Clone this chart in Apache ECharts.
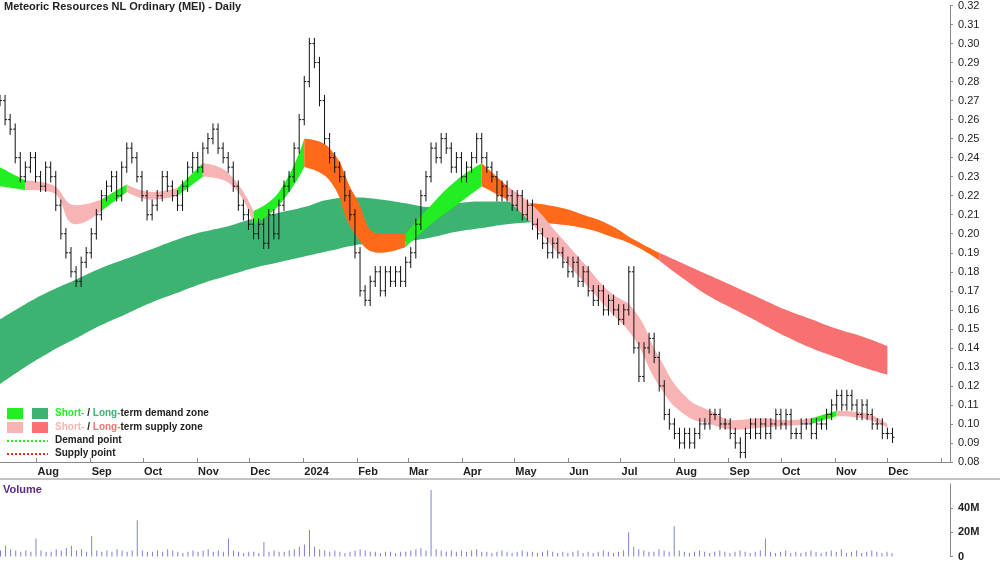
<!DOCTYPE html>
<html>
<head>
<meta charset="utf-8">
<script src="https://cdn.jsdelivr.net/npm/echarts@6/dist/echarts.min.js"></script>
<style>
html, body { margin: 0; padding: 0; background: #fff; }
#chart { width: 1000px; height: 562px; }
</style>
</head>
<body>
<div id="chart"></div>
<script>
// closes, bars spread evenly from 2023-07-11 to 2024-12-04
let closes = [
	0.27,0.26,0.255,0.24,0.23,0.235,0.24,0.23,0.225,0.235,
	0.23,0.215,0.20,0.19,0.18,0.175,0.185,0.19,0.20,0.21,
	0.22,0.225,0.23,0.22,0.235,0.245,0.24,0.23,0.22,0.21,
	0.215,0.22,0.23,0.225,0.22,0.215,0.225,0.235,0.24,0.235,
	0.245,0.25,0.255,0.245,0.24,0.235,0.225,0.215,0.21,0.205,
	0.20,0.205,0.195,0.21,0.20,0.215,0.225,0.23,0.245,0.26,
	0.28,0.30,0.29,0.27,0.25,0.24,0.235,0.23,0.22,0.21,
	0.19,0.17,0.165,0.175,0.18,0.17,0.18,0.175,0.18,0.175,
	0.185,0.19,0.205,0.22,0.23,0.245,0.24,0.25,0.245,0.235,
	0.24,0.23,0.235,0.24,0.25,0.24,0.235,0.23,0.22,0.225,
	0.22,0.215,0.22,0.21,0.215,0.205,0.20,0.195,0.19,0.195,
	0.19,0.185,0.18,0.185,0.175,0.18,0.17,0.165,0.17,0.16,
	0.165,0.16,0.155,0.16,0.18,0.14,0.125,0.14,0.145,0.135,
	0.12,0.105,0.10,0.095,0.09,0.095,0.09,0.095,0.10,0.10,
	0.105,0.105,0.10,0.10,0.095,0.09,0.085,0.095,0.10,0.095,
	0.10,0.095,0.10,0.105,0.10,0.105,0.095,0.095,0.10,0.10,
	0.095,0.10,0.10,0.105,0.11,0.115,0.11,0.115,0.11,0.105,
	0.11,0.105,0.10,0.10,0.095,0.095,0.093
];
// volume in millions, same bars
let volumes = [
	5,9,6,5,4,5,4,15,5,4,
	4,6,5,7,9,5,6,4,17,5,
	4,5,4,6,5,4,5,30,5,4,
	4,5,4,6,5,4,3,4,5,4,
	5,6,4,5,4,15,5,4,3,4,
	4,3,12,4,5,4,4,5,6,8,
	10,22,8,6,5,4,5,4,3,4,
	5,6,5,4,4,3,4,4,3,4,
	4,5,6,7,5,55,6,5,4,5,
	4,5,4,5,6,4,4,3,4,5,
	4,3,4,5,4,4,3,4,5,4,
	3,4,3,4,5,3,4,3,4,5,
	4,3,4,5,20,8,6,5,4,4,
	6,5,4,25,5,4,3,4,5,4,
	3,4,5,4,3,4,5,4,3,4,
	5,15,4,3,4,5,3,4,3,4,
	5,4,3,4,5,4,6,3,4,5,
	3,4,5,4,3,4,3
];
// bands sampled every 5 bars
let longLow = [0.121,0.130,0.138,0.145,0.152,0.158,0.164,0.169,0.174,0.178,0.182,0.185,0.188,0.191,0.194,0.195,0.196,0.198,0.201,0.203,0.205,0.206,0.205,0.203,0.199,0.194,0.186,0.176,0.167,0.160,0.153,0.146,0.140,0.135,0.130,0.126];
let longHigh = [0.155,0.163,0.170,0.176,0.182,0.187,0.192,0.197,0.201,0.204,0.208,0.211,0.214,0.218,0.219,0.218,0.216,0.214,0.216,0.217,0.217,0.216,0.214,0.210,0.205,0.197,0.190,0.184,0.178,0.172,0.166,0.160,0.155,0.150,0.146,0.141];
let longZone = ['d','d','d','d','d','d','d','d','d','d','d','d','d','d','d','d','d','d','d','d','d','o','o','o','o','o','s','s','s','s','s','s','s','s','s'];
let shortLow = [0.225,0.223,0.222,0.205,0.212,0.222,0.218,0.220,0.230,0.227,0.205,0.215,0.235,0.228,0.200,0.190,0.193,0.205,0.215,0.225,0.218,0.205,0.190,0.175,0.160,0.145,0.120,0.105,0.100,0.097,0.098,0.099,0.100,0.104,0.103,0.098];
let shortHigh = [0.235,0.228,0.226,0.215,0.218,0.226,0.222,0.224,0.237,0.232,0.212,0.222,0.250,0.245,0.220,0.200,0.200,0.215,0.228,0.237,0.225,0.215,0.200,0.185,0.170,0.160,0.135,0.115,0.107,0.102,0.103,0.102,0.103,0.107,0.106,0.100];
let shortZone = ['d','s','s','s','d','s','s','d','s','s','d','d','o','o','o','o','d','d','d','o','s','s','s','s','s','s','s','s','s','s','s','s','d','s','s'];
let monthNames = ['2024','Feb','Mar','Apr','May','Jun','Jul','Aug','Sep','Oct','Nov','Dec'];

let shortColors = { d: '#22ee22', s: '#f8b4b4', o: '#ff6a1a' };
let longColors = { d: '#3cb371', s: '#f87171', o: '#ff6a1a' };

let startT = Date.UTC(2023, 6, 11);
let endT = Date.UTC(2024, 11, 4);
let axisMax = Date.UTC(2025, 0, 6);
let dates = closes.map((c, i) => startT + i * (endT - startT) / (closes.length - 1));

let ohlc = closes.map((c, i) => {
	let o = i === 0 ? c : closes[i - 1];
	return [dates[i], o, c, Math.min(o, c) - 0.003, Math.max(o, c) + 0.003];
});

function bandSeries(low, high, zones, colors, prefix) {
	let out = [];
	let runs = [];
	zones.forEach((z, i) => {
		if (runs.length && runs[runs.length - 1].z === z) runs[runs.length - 1].end = i + 1;
		else runs.push({ z: z, start: i, end: i + 1 });
	});
	runs.forEach((r, k) => {
		let base = [], diff = [];
		for (let i = r.start; i <= r.end; i++) {
			let t = dates[Math.min(i * 5, dates.length - 1)];
			base.push([t, low[i]]);
			diff.push([t, +(high[i] - low[i]).toFixed(4)]);
		}
		let st = prefix + k;
		out.push({ type: 'line', stack: st, data: base, symbol: 'none', smooth: true, lineStyle: { opacity: 0 }, silent: true });
		out.push({ type: 'line', stack: st, data: diff, symbol: 'none', smooth: true, lineStyle: { opacity: 0 }, areaStyle: { color: colors[r.z], opacity: 1 }, silent: true });
	});
	return out;
}

let myChart = echarts.init(document.getElementById('chart'));

let font = 'bold 10px Liberation Sans';
let option = {
	animation: false,
	backgroundColor: '#fff',
	textStyle: { fontFamily: 'Liberation Sans, Arial' },
	grid: [
		{ left: 0, right: 50, top: 5, bottom: 100 },
		{ left: 0, right: 50, top: 484, bottom: 3 }
	],
	xAxis: [
		{
			type: 'time', gridIndex: 0, min: startT, max: axisMax,
			minInterval: 28 * 864e5, maxInterval: 31 * 864e5,
			axisLine: { lineStyle: { color: '#888' } },
			axisTick: { show: true, length: 4, inside: true, lineStyle: { color: '#888' } },
			splitLine: { show: false },
			axisLabel: {
				align: 'left', padding: [0, 0, 0, 1], color: '#222', fontSize: 11, fontWeight: 'bold', margin: 4,
				formatter: v => { let d = new Date(v); return d.getUTCFullYear() === 2023 && d.getUTCMonth() < 7 ? '' : (d.getUTCFullYear() === 2025 ? '' : monthNames[d.getUTCMonth()]); }
			}
		},
		{ type: 'time', gridIndex: 1, min: startT, max: axisMax, show: false }
	],
	yAxis: [
		{
			type: 'value', gridIndex: 0, position: 'right', min: 0.08, max: 0.32, interval: 0.01,
			splitLine: { show: false },
			axisLine: { show: true, lineStyle: { color: '#888' } },
			axisTick: { show: true, length: 3, lineStyle: { color: '#888' } },
			axisLabel: { color: '#222', fontSize: 11, formatter: v => v.toFixed(2) }
		},
		{
			type: 'value', gridIndex: 1, position: 'right', min: 0, max: 60, interval: 20,
			splitLine: { show: false },
			axisLine: { show: true, lineStyle: { color: '#888' } },
			axisTick: { show: true, length: 3 },
			axisLabel: { color: '#222', fontSize: 11, fontWeight: 'bold', showMaxLabel: false, formatter: v => v === 0 ? '0' : v + 'M' }
		}
	],
	graphic: [
		{ type: 'text', left: 4, top: 1, style: { text: 'Meteoric Resources NL Ordinary (MEI) - Daily', font: 'bold 11px Liberation Sans', fill: '#222' } },
		{ type: 'text', left: 3, top: 484, style: { text: 'Volume', font: 'bold 11px Liberation Sans', fill: '#5b2a86' } },
		{ type: 'line', shape: { x1: 0, y1: 479, x2: 1000, y2: 479 }, style: { stroke: '#888' } },
		{ type: 'rect', shape: { x: 7, y: 408, width: 16, height: 11 }, style: { fill: '#22ee22' } },
		{ type: 'rect', shape: { x: 32, y: 408, width: 16, height: 11 }, style: { fill: '#3cb371' } },
		{ type: 'rect', shape: { x: 7, y: 422, width: 16, height: 11 }, style: { fill: '#f8b4b4' } },
		{ type: 'rect', shape: { x: 32, y: 422, width: 16, height: 11 }, style: { fill: '#f87171' } },
		{ type: 'line', shape: { x1: 7, y1: 441, x2: 48, y2: 441 }, style: { stroke: '#22ee22', lineWidth: 2, lineDash: [2, 2] } },
		{ type: 'line', shape: { x1: 7, y1: 454, x2: 48, y2: 454 }, style: { stroke: '#ee2222', lineWidth: 2, lineDash: [2, 2] } },
		{ type: 'text', left: 55, top: 408, style: { rich: { g: { fill: '#22ee22', font: font }, d: { fill: '#3cb371', font: font }, b: { fill: '#222', font: font } }, text: '{g|Short-}{b| / }{d|Long-}{b|term demand zone}' } },
		{ type: 'text', left: 55, top: 422, style: { rich: { g: { fill: '#f8b4b4', font: font }, d: { fill: '#f87171', font: font }, b: { fill: '#222', font: font } }, text: '{g|Short-}{b| / }{d|Long-}{b|term supply zone}' } },
		{ type: 'text', left: 55, top: 435, style: { text: 'Demand point', font: font, fill: '#222' } },
		{ type: 'text', left: 55, top: 448, style: { text: 'Supply point', font: font, fill: '#222' } }
	],
	series: [
		...bandSeries(longLow, longHigh, longZone, longColors, 'L'),
		...bandSeries(shortLow, shortHigh, shortZone, shortColors, 'S'),
		{
			type: 'custom', xAxisIndex: 0, yAxisIndex: 0, data: ohlc, z: 10,
			renderItem: function (params, api) {
				let t = api.value(0);
				let pO = api.coord([t, api.value(1)]);
				let pC = api.coord([t, api.value(2)]);
				let pL = api.coord([t, api.value(3)]);
				let pH = api.coord([t, api.value(4)]);
				let st = { stroke: '#111', lineWidth: 1 };
				return { type: 'group', children: [
					{ type: 'line', shape: { x1: pL[0], y1: pL[1], x2: pH[0], y2: pH[1] }, style: st },
					{ type: 'line', shape: { x1: pO[0] - 2, y1: pO[1], x2: pO[0], y2: pO[1] }, style: st },
					{ type: 'line', shape: { x1: pC[0], y1: pC[1], x2: pC[0] + 2, y2: pC[1] }, style: st }
				] };
			}
		},
		{
			type: 'bar', xAxisIndex: 1, yAxisIndex: 1, barWidth: 1,
			data: volumes.map((v, i) => [dates[i], v]),
			itemStyle: { color: '#8080d0' }
		}
	]
};

myChart.setOption(option);
</script>
</body>
</html>
